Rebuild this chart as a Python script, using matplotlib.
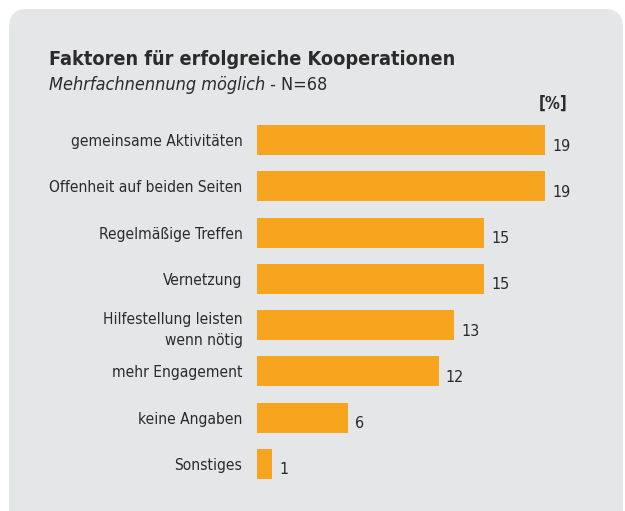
import matplotlib
matplotlib.use("Agg")
import matplotlib.pyplot as plt
from matplotlib.patches import FancyBboxPatch
from matplotlib.transforms import Affine2D
from matplotlib import font_manager

categories = ["gemeinsame Aktivitäten", "Offenheit auf beiden Seiten", "Regelmäßige Treffen",
              "Vernetzung", "Hilfestellung leisten\nwenn nötig", "mehr Engagement",
              "keine Angaben", "Sonstiges"]
values = [19, 19, 15, 15, 13, 12, 6, 1]
title = "Faktoren für erfolgreiche Kooperationen"
subtitle_italic = "Mehrfachnennung möglich"
subtitle_rest = " - N=68"
unit_label = "[%]"

W, H = 625, 511
BG = "#e5e6e8"
BAR = "#f7a51e"
TXT = "#2b2b2b"

names = {f.name for f in font_manager.fontManager.ttflist}
if "Liberation Sans Narrow" in names:
    FONT = ["Liberation Sans Narrow", "DejaVu Sans"]
    STRETCH = "normal"
else:
    FONT = ["DejaVu Sans"]
    STRETCH = "condensed"

plt.rcParams["font.family"] = FONT
plt.rcParams["font.stretch"] = STRETCH
fig = plt.figure(figsize=(W / 100, H / 100), dpi=100)
fig.patch.set_facecolor("white")

px = Affine2D().scale(1 / W, 1 / H) + fig.transFigure
panel = FancyBboxPatch((9, -30), 614, H - 9 + 30, boxstyle="round,pad=0,rounding_size=18",
                       transform=px, facecolor=BG, edgecolor="none", zorder=-5)
fig.patches.append(panel)

left_px = 257
unit_px = 288 / 19
xmax = 22
top_px, bot_px = 116.9, 487.1
ax = fig.add_axes([left_px / W, 1 - bot_px / H, unit_px * xmax / W, (bot_px - top_px) / H])
ax.set_zorder(2)
ax.set_facecolor("none")
y = list(range(len(categories)))
ax.barh(y, values, height=0.65, color=BAR, zorder=2)
ax.set_xlim(0, xmax)
ax.set_ylim(len(categories) - 0.5, -0.5)
ax.set_yticks(y)
ax.set_yticklabels(categories, fontsize=11.2, color=TXT, ha="right", linespacing=1.5)
ax.tick_params(axis="y", length=0, pad=10.5)
ax.set_xticks([])
for s in ax.spines.values():
    s.set_visible(False)
for yi, v in zip(y, values):
    ax.annotate(str(v), (v, yi), xytext=(7, -6), textcoords="offset pixels",
                va="center", ha="left", fontsize=11.5, color=TXT)

fig.text(49 / W, 1 - 65 / H, title, fontsize=14.2, fontweight="bold", color=TXT,
         va="baseline", ha="left", zorder=3)
t1 = fig.text(49 / W, 1 - 90 / H, subtitle_italic, fontsize=13, style="italic", color=TXT,
              va="baseline", ha="left", zorder=3)
fig.canvas.draw()
bb = t1.get_window_extent()
fig.text(bb.x1 / W, 1 - 90 / H, subtitle_rest, fontsize=13, color=TXT, va="baseline",
         ha="left", zorder=3)
fig.text(553 / W, 1 - 104 / H, unit_label, fontsize=12, fontweight="bold", color=TXT,
         va="center", ha="center", zorder=3)

fig.savefig("out.png", dpi=100, facecolor="white")
